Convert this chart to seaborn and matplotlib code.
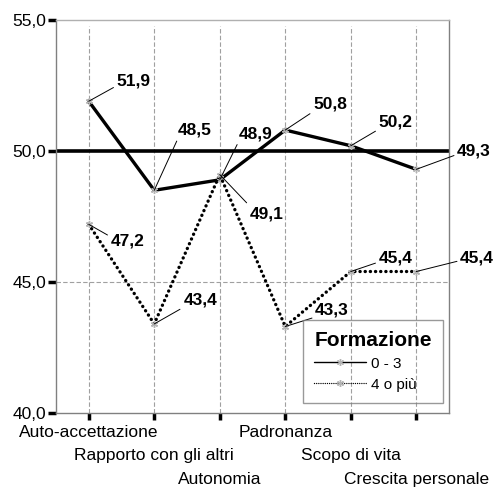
import numpy as np
import pandas as pd
import matplotlib
matplotlib.use('Agg')
import matplotlib.pyplot as plt
from matplotlib.ticker import FuncFormatter
import seaborn as sns

# data
categories = ['Auto-accettazione', 'Rapporto con gli altri', 'Autonomia',
              'Padronanza', 'Scopo di vita', 'Crescita personale']
group_0_3 = [51.9, 48.5, 48.9, 50.8, 50.2, 49.3]
group_4_piu = [47.2, 43.4, 49.1, 43.3, 45.4, 45.4]
groups = ['0 - 3', '4 o più']
y_ticks = [40, 45, 50, 55]

# label offsets in pixels (dx, dy) and leader attach point on text box
offs_0_3 = [(28, 20, (0, 0.2)), (24, 60, (0, 0)), (19, 46, (0, 0)),
            (28, 26, (0, 0)), (28, 24, (0, 0)), (41, 18, (0, 0.3))]
offs_4 = [(22, -17, (0, 0.8)), (29, 24, (0, 0)), (30, -39, (0, 1)),
          (30, 17, (0, 0)), (28, 14, (0, 0.2)), (44, 14, (0, 0.3))]

df = pd.DataFrame({
    'categoria': categories * 2,
    'valore': group_0_3 + group_4_piu,
    'Formazione': [groups[0]] * len(categories) + [groups[1]] * len(categories),
})

sns.set_style('white')
plt.rcParams['font.family'] = ['Liberation Sans', 'DejaVu Sans']
plt.rcParams['text.color'] = 'black'
plt.rcParams['xtick.color'] = 'black'
plt.rcParams['ytick.color'] = 'black'

fig = plt.figure(figsize=(5.01, 4.87), dpi=100)
ax = fig.add_axes([56 / 501, 1 - 413 / 487, 393 / 501, 393 / 487])

sns.lineplot(data=df, x='categoria', y='valore', style='Formazione',
             style_order=groups, dashes={groups[0]: '', groups[1]: (0.05, 1.5)},
             markers={groups[0]: (6, 2, 0), groups[1]: (6, 2, 0)},
             color='black', linewidth=2.4, markersize=5, sort=False, ax=ax)
for line in ax.lines:
    line.set_markeredgecolor('#b4b4b4')
    line.set_markerfacecolor('#b4b4b4')
    line.set_markeredgewidth(1.0)
    line.set_dash_capstyle('round')
    line.set_solid_capstyle('round')

ax.axhline(50, color='black', lw=2.6, zorder=1)
ax.axhline(45, color='#a0a0a0', lw=0.8, ls=(0, (4, 2)), zorder=0)
for i in range(len(categories)):
    ax.axvline(i, color='#a0a0a0', lw=0.8, ls=(0, (4, 2)), zorder=0,
               ymax=0.985)

ax.set_xlim(-0.5, len(categories) - 0.5)
ax.set_ylim(40, 55)
ax.set_yticks(y_ticks)
ax.yaxis.set_major_formatter(FuncFormatter(lambda v, p: f'{v:.1f}'.replace('.', ',')))
ax.set_xlabel('')
ax.set_ylabel('')

for s in ax.spines.values():
    s.set_color('#808080')
    s.set_linewidth(1.0)
ax.spines['top'].set_color('#b0b0b0')

ax.tick_params(axis='y', left=True, length=6, width=2.5, color='black',
               labelsize=12.5, pad=1, labelcolor='black')
ax.tick_params(axis='x', bottom=True, length=5, width=2.5, color='black',
               labelsize=12.5, labelcolor='black')
for i, tick in enumerate(ax.xaxis.get_major_ticks()):
    tick.set_pad(3.5 + (i % 3) * 17.0)

for vals, offs in ((group_0_3, offs_0_3), (group_4_piu, offs_4)):
    for i, (v, (dx, dy, rp)) in enumerate(zip(vals, offs)):
        ax.annotate(f'{v:.1f}'.replace('.', ','), xy=(i, v),
                    xytext=(dx, dy), textcoords='offset pixels',
                    ha='left', va='center', fontsize=12.5, fontweight='bold',
                    color='black',
                    arrowprops=dict(arrowstyle='-', color='black', lw=0.7,
                                    relpos=rp, shrinkA=0, shrinkB=0))

leg = ax.legend(title='Formazione', loc='lower right',
                bbox_to_anchor=(0.985, 0.025), borderaxespad=0, fontsize=11,
                title_fontproperties={'weight': 'bold', 'size': 15},
                frameon=True, fancybox=False, facecolor='none',
                edgecolor='#808080', handlelength=3.4, borderpad=0.75,
                labelspacing=0.45, handletextpad=0.3)
leg.get_frame().set_linewidth(1.0)
leg._legend_box.align = 'left'
for h in leg.legend_handles:
    h.set_linewidth(1.0)

fig.savefig('out.png', dpi=100)
